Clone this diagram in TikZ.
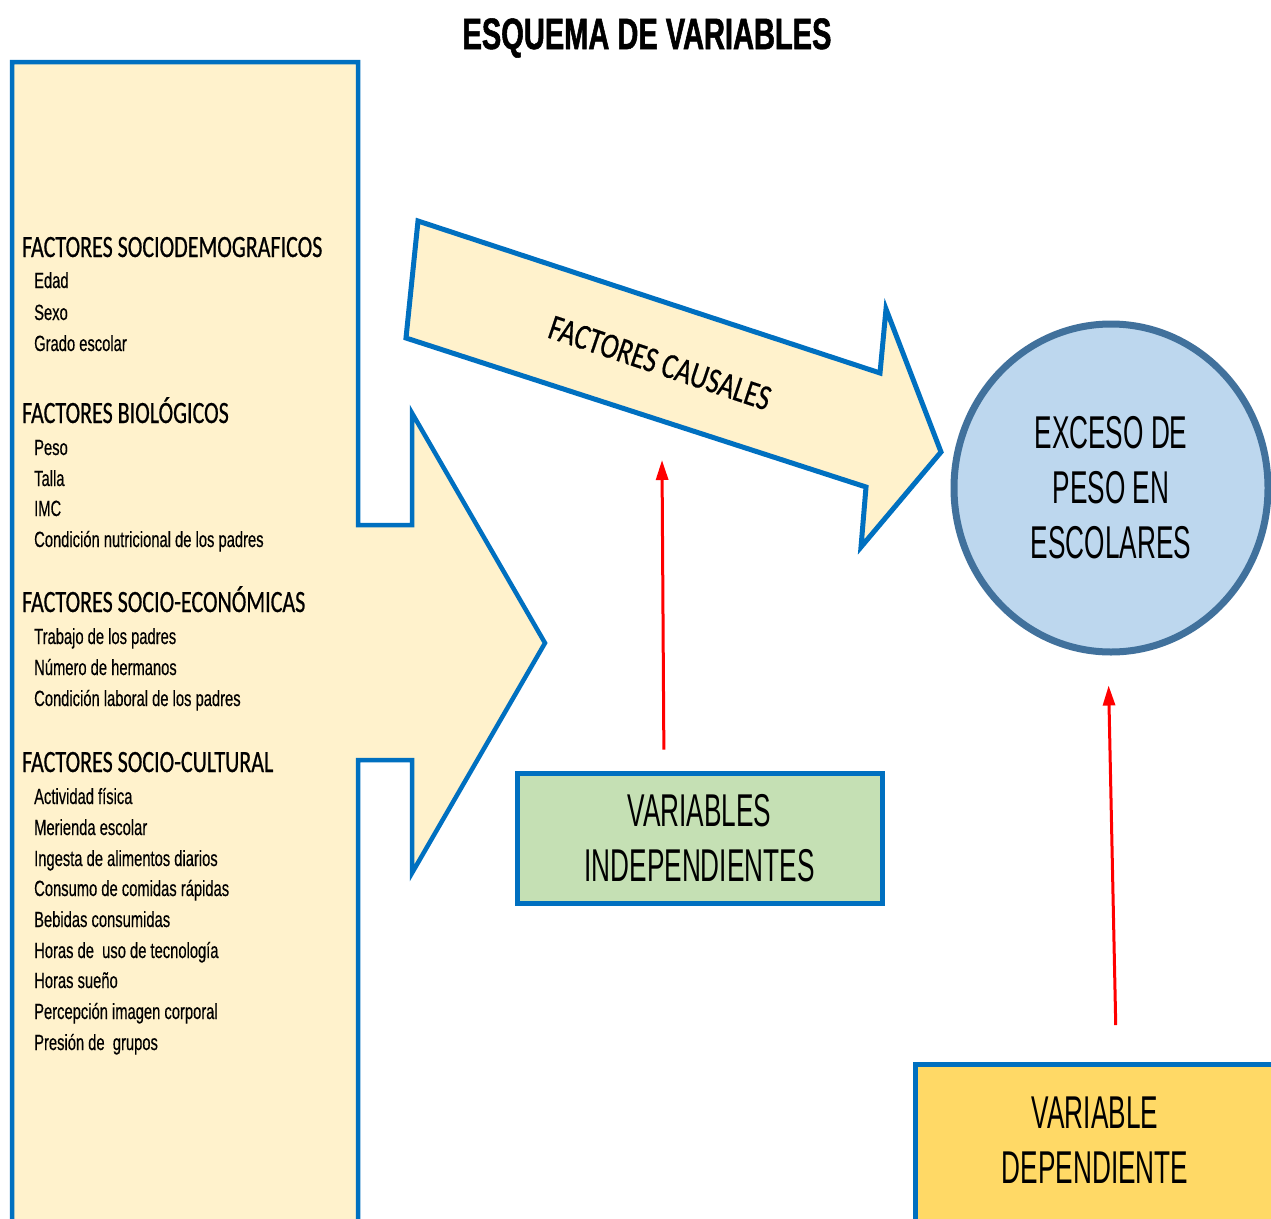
\documentclass[tikz,border=0pt]{standalone}
\usepackage{fontspec}
\setmainfont{Liberation Sans}
\newfontfamily\narrowfont[FakeStretch=0.57]{Liberation Sans}
\newfontfamily\itemfont[FakeStretch=0.67,FakeBold=0.4]{Liberation Sans}
\newfontfamily\headfont[FakeStretch=0.71,FakeBold=0.6]{Carlito}
\newfontfamily\causalfont[FakeStretch=0.76,FakeBold=0.5]{Carlito}
\newfontfamily\titlefont[FakeStretch=0.66,FakeBold=1.2]{Liberation Sans Bold}
\usetikzlibrary{shapes.geometric,arrows.meta}
\definecolor{bline}{HTML}{0070C0}
\definecolor{cream}{HTML}{FFF2CC}
\definecolor{cfill}{HTML}{BDD7EE}
\definecolor{cline}{HTML}{41719C}
\definecolor{gfill}{HTML}{C5E0B4}
\definecolor{yfill}{HTML}{FFD966}
\definecolor{redline}{HTML}{FF0000}
\tikzset{
  shapestyle/.style={draw=bline, fill=cream, line join=miter},
  headtxt/.style={anchor=base west, inner sep=0pt, font=\headfont\fontsize{31}{31}\selectfont},
  itemtxt/.style={anchor=base west, inner sep=0pt, font=\itemfont\fontsize{22}{22}\selectfont},
  bigtxt/.style={align=center, inner sep=0pt, font=\narrowfont\fontsize{46}{55}\selectfont},
  varbox/.style={draw=bline, line width=5pt, inner sep=0pt},
  redarrow/.style={draw=redline, line width=3pt, -{Triangle[length=20pt,width=12pt]}}
}
\begin{document}
\begin{tikzpicture}[x=1pt,y=-1pt]
\clip (0,0) rectangle (1271,1218);
\fill[white] (0,0) rectangle (1271,1218);

% title
\node (title) [inner sep=0pt, font=\titlefont\fontsize{44}{44}\selectfont] at (647,38) {ESQUEMA DE VARIABLES};

% left big shape
\draw[shapestyle, line width=4.5pt] (12,1240) -- (12,62) -- (358,62) -- (358,525) -- (412,525) -- (412,413)
  -- (545,643) -- (412,873) -- (412,760) -- (358,760) -- (358,1240) -- cycle;

% causal arrow
\draw[shapestyle, line width=5pt] (418,221) -- (880,373) -- (886,309) -- (941,452) -- (861,547) -- (866,487) -- (406,338) -- cycle;
\node (causal) [inner sep=0pt, rotate=-18.5, font=\causalfont\fontsize{36}{36}\selectfont] at (660,363) {FACTORES CAUSALES};

% circle
\node (exc) [ellipse, draw=cline, fill=cfill, line width=7pt, minimum width=314pt, minimum height=328pt, inner sep=0pt] at (1111,488) {};
\node (exct) [bigtxt] at (1111,488) {EXCESO DE\\PESO EN\\ESCOLARES};

% variables independientes
\node (vi) [varbox, fill=gfill, minimum width=365pt, minimum height=130pt] at (699.5,838) {};
\node (vit) [bigtxt] at (699.5,838) {VARIABLES\\INDEPENDIENTES};

% variable dependiente
\node (vd) [varbox, fill=yfill, minimum width=364pt, minimum height=190pt, anchor=north west] at (913,1062) {};
\node (vdt) [bigtxt] at (1095,1140) {VARIABLE\\DEPENDIENTE};

% red arrows
\coordinate (r1end) at (662,460);
\draw[redarrow, shorten <=21pt] ([xshift=-35.5pt]vi.north) -- (r1end);
\draw[redarrow, shorten <=37pt, shorten >=30pt] ([xshift=19pt]vd.north) -- ([xshift=-3pt]exc.south);

% left list
\node (h1) [headtxt] at (22,257) {FACTORES SOCIODEMOGRAFICOS};
\node (i1) [itemtxt] at (34,288) {Edad};
\node (i2) [itemtxt] at (34,320) {Sexo};
\node (i3) [itemtxt] at (34,351) {Grado escolar};
\node (h2) [headtxt] at (22,423) {FACTORES BIOLÓGICOS};
\node (i4) [itemtxt] at (34,455) {Peso};
\node (i5) [itemtxt] at (34,486) {Talla};
\node (i6) [itemtxt] at (34,516) {IMC};
\node (i7) [itemtxt] at (34,547) {Condición nutricional de los padres};
\node (h3) [headtxt] at (22,612) {FACTORES SOCIO-ECONÓMICAS};
\node (i8) [itemtxt] at (34,644) {Trabajo de los padres};
\node (i9) [itemtxt] at (34,675) {Número de hermanos};
\node (i10) [itemtxt] at (34,706) {Condición laboral de los padres};
\node (h4) [headtxt] at (22,772) {FACTORES SOCIO-CULTURAL};
\node (i11) [itemtxt] at (34,804) {Actividad física};
\node (i12) [itemtxt] at (34,835) {Merienda escolar};
\node (i13) [itemtxt] at (34,866) {Ingesta de alimentos diarios};
\node (i14) [itemtxt] at (34,896) {Consumo de comidas rápidas};
\node (i15) [itemtxt] at (34,927) {Bebidas consumidas};
\node (i16) [itemtxt] at (34,958) {Horas de\ \ uso de tecnología};
\node (i17) [itemtxt] at (34,988) {Horas sueño};
\node (i18) [itemtxt] at (34,1019) {Percepción imagen corporal};
\node (i19) [itemtxt] at (34,1050) {Presión de\ \ grupos};
\end{tikzpicture}
\end{document}
